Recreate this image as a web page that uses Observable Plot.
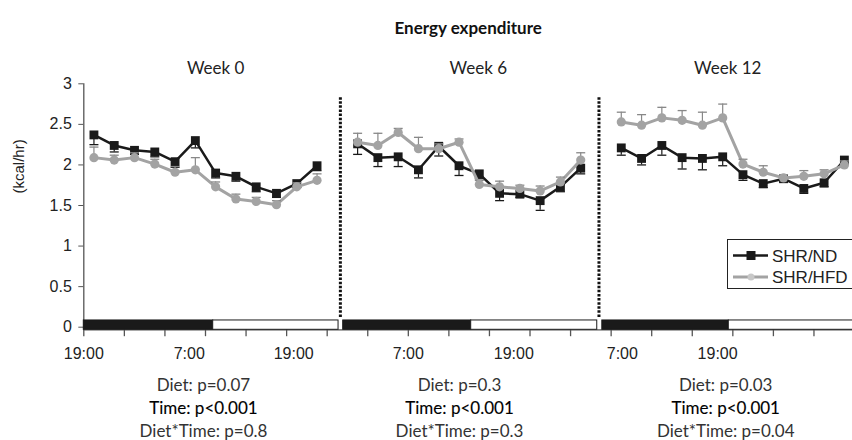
<!DOCTYPE html>
<html><head><meta charset="utf-8">
<script src="https://cdn.jsdelivr.net/npm/d3@7"></script>
<script src="https://cdn.jsdelivr.net/npm/@observablehq/plot@0.6"></script>
<style>
body{margin:0;background:#fff;}
#wrap{position:relative;width:852px;height:440px;overflow:hidden;}
#legend{position:absolute;left:727px;top:239px;width:126px;height:50px;border:1px solid #222;box-sizing:border-box;background:#fff;}
</style></head>
<body><div id="wrap"><div id="chart"></div><div id="legend"></div></div>
<script>
// ---- data ----
const weeks = ["Week 0", "Week 6", "Week 12"];
const hoursW0  = [1, 3, 5, 7, 9, 11, 13, 15, 17, 19, 21, 23];
const hoursW6  = [27, 29, 31, 33, 35, 37, 39, 41, 43, 45, 47, 49];
const hoursW12 = [53, 55, 57, 59, 61, 63, 65, 67, 69, 71, 73, 75];
const ndW0   = [2.37, 2.24, 2.18, 2.16, 2.04, 2.30, 1.90, 1.86, 1.73, 1.65, 1.77, 1.99];
const hfdW0  = [2.09, 2.06, 2.09, 2.01, 1.91, 1.94, 1.73, 1.58, 1.55, 1.51, 1.73, 1.81];
const ndW6   = [2.26, 2.09, 2.10, 1.94, 2.23, 1.99, 1.89, 1.65, 1.64, 1.56, 1.73, 1.96];
const hfdW6  = [2.28, 2.24, 2.40, 2.20, 2.20, 2.28, 1.76, 1.73, 1.71, 1.68, 1.79, 2.06];
const ndW12  = [2.21, 2.08, 2.24, 2.09, 2.08, 2.10, 1.88, 1.77, 1.83, 1.71, 1.78, 2.06];
const hfdW12 = [2.53, 2.49, 2.58, 2.55, 2.49, 2.58, 2.01, 1.91, 1.84, 1.86, 1.89, 2.00];
const ndErrW0   = [0.12, 0.08, 0.05, 0.06, 0.07, 0.09, 0.06, 0.06, 0.06, 0.05, 0.05, 0.06];
const hfdErrW0  = [0.13, 0.06, 0.06, 0.06, 0.07, 0.15, 0.06, 0.06, 0.05, 0.05, 0.05, 0.08];
const ndErrW6   = [0.13, 0.11, 0.12, 0.10, 0.12, 0.12, 0.06, 0.09, 0.04, 0.12, 0.06, 0.07];
const hfdErrW6  = [0.11, 0.15, 0.05, 0.14, 0.06, 0.04, 0.05, 0.07, 0.04, 0.06, 0.06, 0.09];
const ndErrW12  = [0.09, 0.08, 0.12, 0.14, 0.14, 0.11, 0.07, 0.05, 0.04, 0.06, 0.05, 0.05];
const hfdErrW12 = [0.12, 0.13, 0.13, 0.12, 0.16, 0.17, 0.06, 0.08, 0.04, 0.07, 0.05, 0.05];
const seriesNames = ["SHR/ND", "SHR/HFD"];
const xTickLabels = ["19:00", "7:00", "19:00", "7:00", "19:00", "7:00", "19:00"];
const xTickLabelHours = [0, 10.4, 20.7, 32.0, 42.4, 53.1, 62.5];
const yTicks = [0, 0.5, 1, 1.5, 2, 2.5, 3];
const phaseStart = [0, 12.76, 25.58, 38.2, 51.13, 63.6];
const phaseEnd   = [12.76, 25.12, 38.2, 50.63, 63.6, 80];
const phaseDark  = [true, false, true, false, true, false];
const weekBoundaries = [25.3, 50.8];
const dietP = ["Diet: p=0.07", "Diet: p=0.3", "Diet: p=0.03"];
const timeP = ["Time: p<0.001", "Time: p<0.001", "Time: p<0.001"];
const interP = ["Diet*Time: p=0.8", "Diet*Time: p=0.3", "Diet*Time: p=0.04"];

// ---- layout ----
const weekLabelHour = [13.0, 38.9, 63.5];
const statsHour = [11.8, 37.05, 63.3];
const ND_COLOR = "#1a1a1a", HFD_COLOR = "#a3a3a3";
const TEXT_FONT = "Lato, 'Open Sans', sans-serif";
const AXIS_FONT = "'Liberation Sans', Arial, sans-serif";

const hours = [hoursW0, hoursW6, hoursW12];
const nd = [ndW0, ndW6, ndW12], hfd = [hfdW0, hfdW6, hfdW12];
const ndE = [ndErrW0, ndErrW6, ndErrW12], hfdE = [hfdErrW0, hfdErrW6, hfdErrW12];
const ndRows = [], hfdRows = [];
weeks.forEach((w, k) => {
  hours[k].forEach((h, i) => {
    ndRows.push({week: w, h, v: nd[k][i], e: ndE[k][i]});
    hfdRows.push({week: w, h, v: hfd[k][i], e: hfdE[k][i]});
  });
});
const phases = phaseStart.map((s, i) => ({start: s, end: phaseEnd[i], dark: phaseDark[i]}));
const weekRows = weeks.map((w, i) => ({week: w, lx: weekLabelHour[i], sx: statsHour[i], diet: dietP[i], time: timeP[i], inter: interP[i]}));
const hbar = {draw(ctx, size) { const r = Math.sqrt(size / Math.PI); ctx.moveTo(-r, 0); ctx.lineTo(r, 0); }};
const AX = -0.032;

const chart = Plot.plot({
  width: 852, height: 440,
  marginLeft: 83.3, marginRight: 0, marginTop: 83.3, marginBottom: 113.3,
  x: {domain: [0, 75.8], axis: null},
  y: {domain: [0, 3], axis: null},
  marks: [
    Plot.axisY({ticks: yTicks, tickFormat: d => String(d), tickSize: 5, tickPadding: 7, fontSize: 16, label: null, fontFamily: AXIS_FONT, fill: "#222", stroke: "#555"}),
    Plot.ruleX([0], {y1: AX, y2: 3, stroke: "#555", strokeWidth: 1.3}),
    Plot.ruleY([AX], {stroke: "#555", strokeWidth: 1.3}),
    Plot.ruleX(d3.range(0, 76, 4), {y1: AX, y2: AX - 0.085, stroke: "#555", strokeWidth: 1.3}),
    Plot.rect(phases, {x1: "start", x2: "end", y1: AX, y2: 0.083, fill: d => d.dark ? "#1a1a1a" : "#fff", stroke: "#1a1a1a", strokeWidth: 1}),
    Plot.text(xTickLabels, {x: (d, i) => xTickLabelHours[i], y: AX, dy: 24, fontSize: 16, fontFamily: AXIS_FONT, fill: "#222"}),
    Plot.text(["(kcal/hr)"], {frameAnchor: "left", dx: -65, dy: -12, rotate: -90, fontSize: 15, fontFamily: AXIS_FONT, fill: "#222"}),
    Plot.ruleX(weekBoundaries, {y1: 0.12, y2: 2.84, stroke: "#111", strokeWidth: 3, strokeDasharray: "2.5,1.6"}),
    // ND
    Plot.line(ndRows, {x: "h", y: "v", z: "week", stroke: ND_COLOR, strokeWidth: 2.5}),
    Plot.ruleX(ndRows, {x: "h", y1: "v", y2: d => d.v - d.e, stroke: ND_COLOR, strokeWidth: 1.2}),
    Plot.dot(ndRows, {x: "h", y: d => d.v - d.e, symbol: hbar, r: 4.5, stroke: ND_COLOR, strokeWidth: 1.3, fill: "none"}),
    Plot.dot(ndRows, {x: "h", y: "v", symbol: "square", r: 5, fill: ND_COLOR, stroke: "none"}),
    // HFD
    Plot.line(hfdRows, {x: "h", y: "v", z: "week", stroke: HFD_COLOR, strokeWidth: 3}),
    Plot.ruleX(hfdRows, {x: "h", y1: "v", y2: d => d.v + d.e, stroke: "#888", strokeWidth: 1.2}),
    Plot.dot(hfdRows, {x: "h", y: d => d.v + d.e, symbol: hbar, r: 4.5, stroke: "#888", strokeWidth: 1.3, fill: "none"}),
    Plot.dot(hfdRows, {x: "h", y: "v", r: 4.6, fill: HFD_COLOR, stroke: "none"}),
    // texts
    Plot.text(["Energy expenditure"], {frameAnchor: "top", dy: -62.3, fontSize: 17, fontWeight: "bold", fontFamily: TEXT_FONT, fill: "#111"}),
    Plot.text(weekRows, {x: "lx", y: 3, dy: -15, text: "week", fontSize: 17, fontFamily: TEXT_FONT, fill: "#222"}),
    Plot.text(weekRows, {x: "sx", y: 0, dy: 58.3, text: "diet", fontSize: 17, fontFamily: TEXT_FONT, fill: "#333"}),
    Plot.text(weekRows, {x: "sx", y: 0, dy: 81.3, text: "time", fontSize: 17, fontFamily: TEXT_FONT, fill: "#000", stroke: "#000", strokeWidth: 0.12}),
    Plot.text(weekRows, {x: "sx", y: 0, dy: 104.3, text: "inter", fontSize: 17, fontFamily: TEXT_FONT, fill: "#333"})
  ]
});
document.getElementById("chart").appendChild(chart);

// legend
const lg = d3.select("#legend").append("svg").attr("width", 124).attr("height", 48)
  .style("font-family", "'Liberation Sans', Arial, sans-serif");
const rowsY = [15.5, 37];
seriesNames.forEach((s, i) => {
  const g = lg.append("g").attr("transform", `translate(0,${rowsY[i]})`);
  const col = i === 0 ? ND_COLOR : HFD_COLOR;
  g.append("line").attr("x1", 5).attr("x2", 40).attr("stroke", col).attr("stroke-width", i === 0 ? 2.5 : 3);
  if (i === 0) g.append("rect").attr("x", 18.5).attr("y", -4.5).attr("width", 9).attr("height", 9).attr("fill", col);
  else g.append("circle").attr("cx", 23).attr("r", 3.5).attr("fill", "#c8c8c8");
  g.append("text").attr("x", 44).attr("dy", "0.36em").attr("font-size", 17).attr("fill", "#222").text(s);
});
</script></body></html>
